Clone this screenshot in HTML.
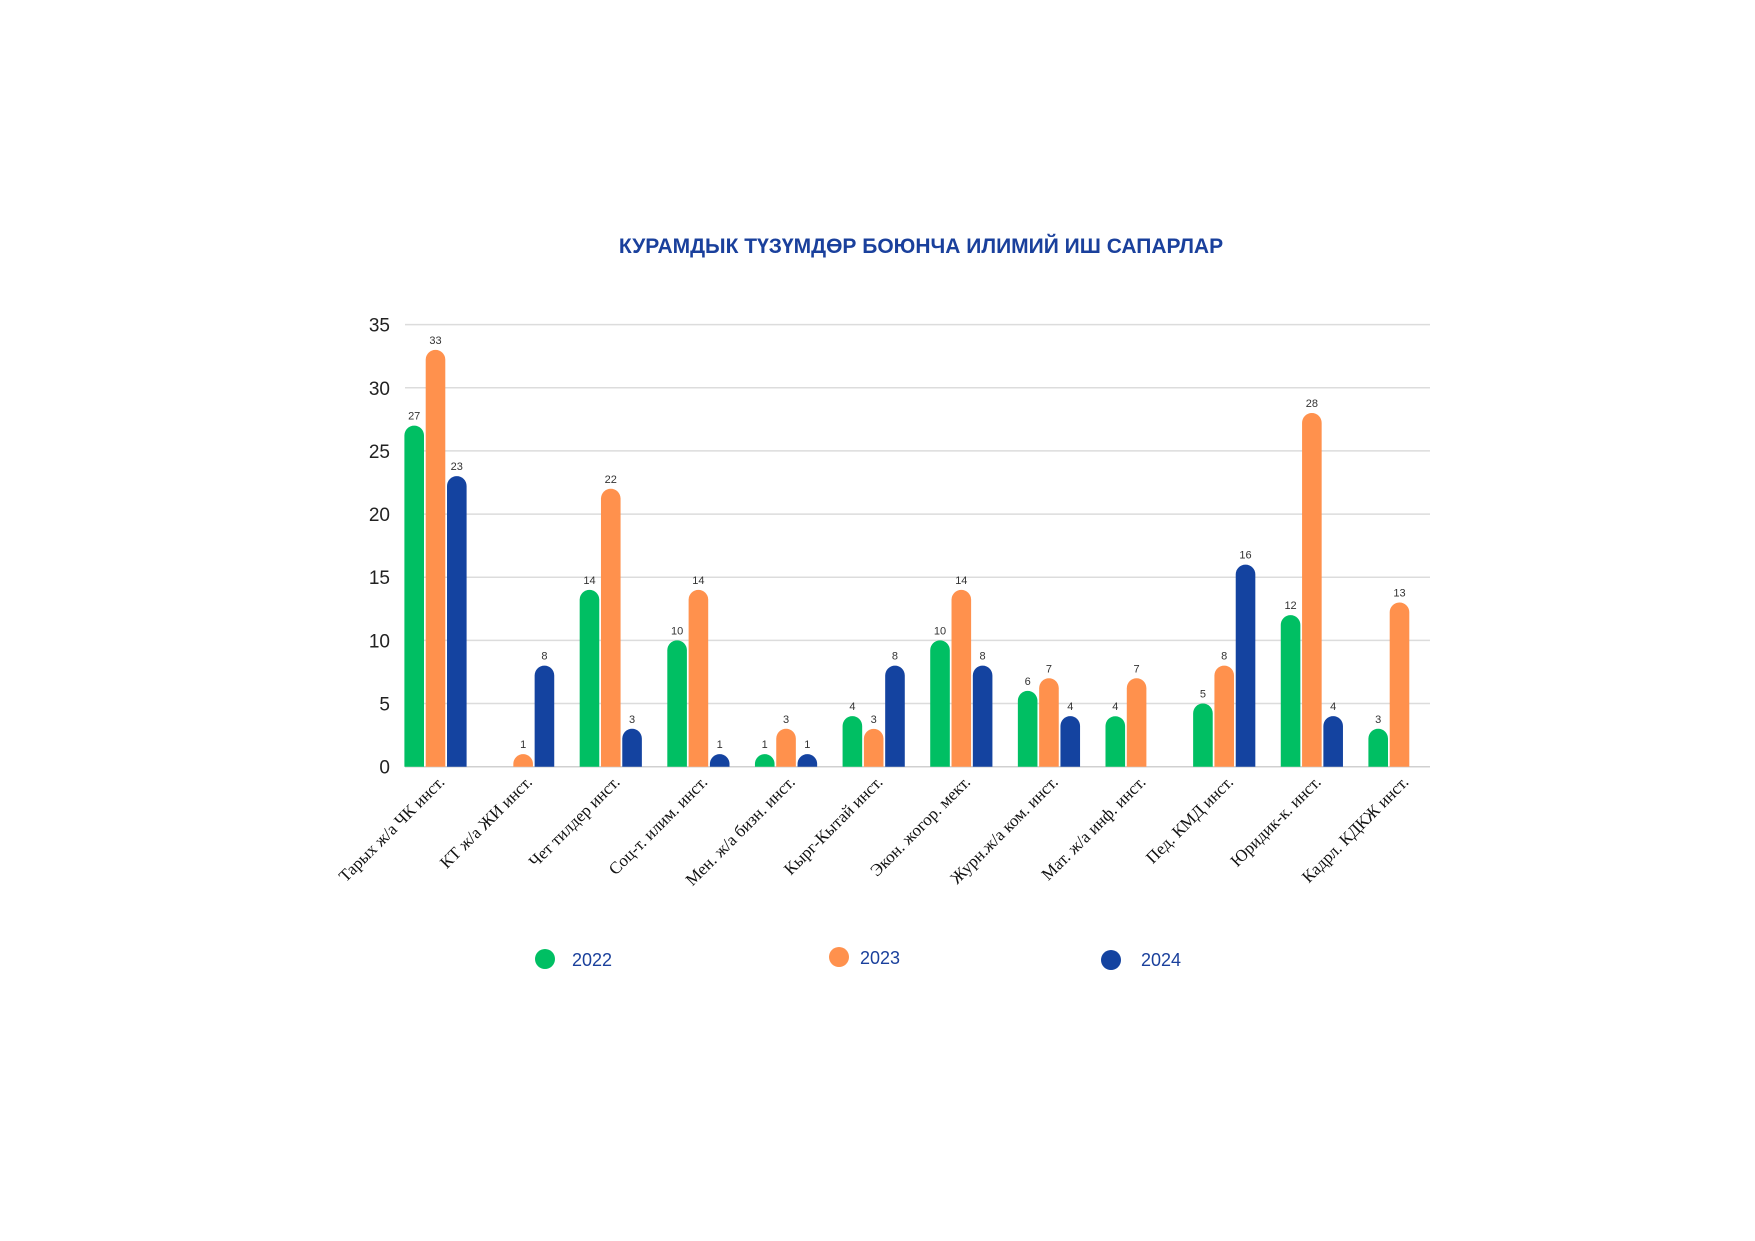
<!DOCTYPE html>
<html><head><meta charset="utf-8"><style>
body{margin:0;background:#fff}
svg{display:block}
</style></head><body>
<svg width="1755" height="1241" viewBox="0 0 1755 1241" xmlns="http://www.w3.org/2000/svg">
<rect width="1755" height="1241" fill="#fff"/>
<text x="921" y="253" text-anchor="middle" font-family="Liberation Sans, sans-serif" font-weight="bold" font-size="21" fill="#1a409c">КУРАМДЫК ТҮЗҮМДӨР БОЮНЧА ИЛИМИЙ ИШ САПАРЛАР</text>
<g id="grid"></g><g id="bars"></g><g id="xl"></g>
<g>
<g><circle cx="545" cy="959" r="10" fill="#00bf63"/><text x="572" y="966" font-family="Liberation Sans, sans-serif" font-size="18" fill="#1a409c">2022</text></g>
<g><circle cx="839" cy="957" r="10" fill="#ff914d"/><text x="860" y="964" font-family="Liberation Sans, sans-serif" font-size="18" fill="#1a409c">2023</text></g>
<g><circle cx="1111" cy="960" r="10" fill="#1443a0"/><text x="1141" y="966" font-family="Liberation Sans, sans-serif" font-size="18" fill="#1a409c">2024</text></g>
</g>
</svg>
<script>
const categories=["Тарых ж/а ЧК инст.","КТ ж/а ЖИ инст.","Чет тилдер инст.","Соц-т. илим. инст.","Мен. ж/а бизн. инст.","Кырг-Кытай инст.","Экон. жогор. мект.","Журн.ж/а ком. инст.","Мат. ж/а инф. инст.","Пед. КМД инст.","Юридик-к. инст.","Кадрл. КДКЖ инст."];
const s2022=[27,0,14,10,1,4,10,6,4,5,12,3];
const s2023=[33,1,22,14,3,3,14,7,7,8,28,13];
const s2024=[23,8,3,1,1,8,8,4,0,16,4,0];
const yTicks=[0,5,10,15,20,25,30,35];
const series=[{n:"2022",v:s2022,c:"#00bf63"},{n:"2023",v:s2023,c:"#ff914d"},{n:"2024",v:s2024,c:"#1443a0"}];
const NS="http://www.w3.org/2000/svg";
const L=405,R=1430,Y0=766.7,Ytop=324.6,YMAX=35;
const y=v=>Y0-(v/YMAX)*(Y0-Ytop);
const step=(R-L-61)/(categories.length-1);
const cx=i=>L+30.5+i*step;
const bw=19.6,bs=21.3;
function mk(t,a,p){const e=document.createElementNS(NS,t);for(const k in a)e.setAttribute(k,a[k]);p.appendChild(e);return e;}
const grid=document.getElementById('grid');
yTicks.forEach(t=>{
 const l=mk('line',{x1:L,x2:R,y1:y(t),y2:y(t),stroke:t===0?'#d0d0d0':'#dcdcdc','stroke-width':1.5},grid);
 
 
 const tx=mk('text',{x:390,y:y(t)+7,'text-anchor':'end','font-family':'Liberation Sans, sans-serif','font-size':19,fill:'#222'},grid);
 tx.textContent=t;
 
 
});
const bars=document.getElementById('bars');
categories.forEach((c,i)=>{
 series.forEach((s,j)=>{
  const v=s.v[i]; if(!v) return;
  const x=cx(i)+(j-1)*bs-bw/2, top=y(v), r=bw/2;
  const p=mk('path',{d:`M${x},${Y0} L${x},${top+r} A${r},${r} 0 0 1 ${x+bw},${top+r} L${x+bw},${Y0} Z`,fill:s.c},bars);
  
  
  const t=mk('text',{x:x+bw/2,y:top-6,'text-anchor':'middle','font-family':'Liberation Sans, sans-serif','font-size':11,fill:'#333'},bars);
  t.textContent=v;
  
  
 });
 const xl=document.getElementById('xl');
 const tx=cx(i)+10, ty=783;
 const t=mk('text',{x:tx,y:ty,'text-anchor':'end','font-family':'Liberation Serif, serif','font-size':17,fill:'#111',transform:`rotate(-45 ${tx} ${ty})`},xl);
 t.textContent=c;
 
 
});
</script>
</body></html>
